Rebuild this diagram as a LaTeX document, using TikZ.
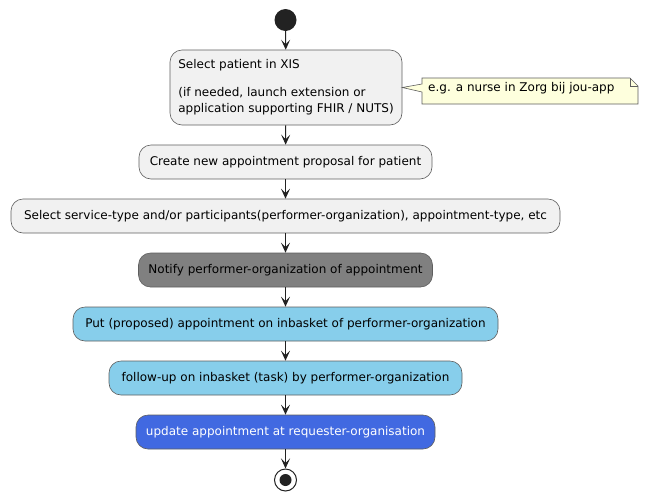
\documentclass[tikz,border=0pt]{standalone}
\usepackage{fontspec}
\setmainfont{DejaVu Sans}
\usetikzlibrary{arrows.meta}
\definecolor{actfill}{HTML}{F1F1F1}
\definecolor{actline}{HTML}{5E5E5E}
\definecolor{notefill}{HTML}{FEFFDD}
\definecolor{dot}{HTML}{222222}
\definecolor{skyblue}{HTML}{87CEEB}
\definecolor{royalblue}{HTML}{4169E1}
\tikzset{
  act/.style={draw=actline, line width=0.6pt, fill=actfill, rounded corners=12pt,
    minimum height=34pt, inner sep=0pt, font=\fontsize{12}{14}\selectfont},
  flow/.style={line width=1pt, dot, -{Stealth[length=10pt,width=9pt,inset=4.5pt]}},
}
\begin{document}
\begin{tikzpicture}[x=1pt,y=-1pt]
    \useasboundingbox (0,0) rectangle (650,501);

    % Start
    \node[circle, fill=dot, minimum size=22pt, inner sep=0pt] (start) at (285.5,20) {};

    % Activities
    \node[act, minimum width=232pt, minimum height=75pt, align=left, font=\fontsize{12}{16}\selectfont] (select) at (286,87.5)
      {Select patient in XIS\\[12pt](if needed, launch extension or\\application supporting FHIR / NUTS)};
    \node[act, minimum width=293pt] (create) at (285.5,162) {Create new appointment proposal for patient};
    \node[act, minimum width=549pt] (service) at (285.5,216) {Select service-type and/or participants(performer-organization), appointment-type, etc};
    \node[act, minimum width=294pt, fill=gray] (notify) at (285.5,270) {Notify performer-organization of appointment};
    \node[act, minimum width=425pt, fill=skyblue] (inbasket) at (285.5,324) {Put (proposed) appointment on inbasket of performer-organization};
    \node[act, minimum width=353pt, fill=skyblue] (followup) at (285.5,378) {follow-up on inbasket (task) by performer-organization};
    \node[act, minimum width=299pt, fill=royalblue, text=white] (update) at (285.5,432) {update appointment at requester-organisation};

    % End
    \node[circle, draw=dot, line width=1pt, fill=white, minimum size=22pt, inner sep=0pt] (stop) at (285.5,480) {};
    \fill[dot] (stop.center) circle (6pt);

    % Note
    \draw[actline, line width=0.6pt, fill=notefill] (422,78) -- (630,78) -- (638,86) -- (638,104) -- (422,104)
      -- (422,92) -- (select.east) -- (422,84) -- cycle;
    \draw[actline, line width=0.6pt] (630,78) -- (630,86) -- (638,86);
    \node[font=\fontsize{12}{14}\selectfont, anchor=west, inner sep=0pt] (note) at (428,88) {e.g. a nurse in Zorg bij jou-app};

    % Arrows
    \foreach \a/\b in {start/select, select/create, create/service, service/notify,
                       notify/inbasket, inbasket/followup, followup/update, update/stop}
      \draw[flow] (\a) -- (\b);
\end{tikzpicture}
\end{document}
